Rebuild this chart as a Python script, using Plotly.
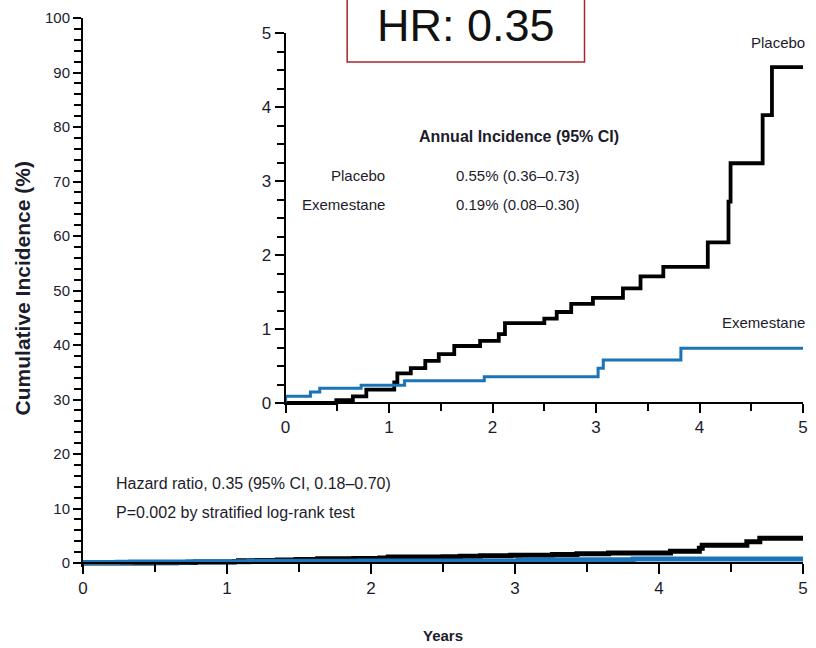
import plotly.graph_objects as go

# ---------------- data ----------------
placebo_t = [0, 0.49, 0.65, 0.78, 1.05, 1.08, 1.21, 1.35, 1.48, 1.63, 1.88, 2.06, 2.12,
             2.50, 2.62, 2.76, 2.97, 3.26, 3.43, 3.65, 4.08, 4.28, 4.30, 4.61, 4.70, 5.0]
placebo_y = [0, 0.04, 0.09, 0.18, 0.28, 0.40, 0.47, 0.57, 0.66, 0.77, 0.84, 0.93, 1.08,
             1.14, 1.23, 1.34, 1.42, 1.55, 1.71, 1.84, 2.17, 2.72, 3.24, 3.89, 4.54, 4.54]
exem_t = [0, 0, 0.24, 0.33, 0.73, 1.15, 1.92, 3.02, 3.07, 3.82, 5.0]
exem_y = [0, 0.09, 0.15, 0.20, 0.24, 0.30, 0.355, 0.47, 0.58, 0.74, 0.74]

year_ticks = [0, 1, 2, 3, 4, 5]
main_y_ticks = [0, 10, 20, 30, 40, 50, 60, 70, 80, 90, 100]
inset_y_ticks = [0, 1, 2, 3, 4, 5]

# ---------------- layout helpers ----------------
W, H = 816, 648
ML, MR, MT, MB = 83, 8, 18, 81
PW, PH = W - ML - MR, H - MT - MB


def px(x):
    return (x - ML) / PW


def py(y):
    return (H - MB - y) / PH


FONT = "Liberation Sans, Arial, sans-serif"
TXT = "#1c1c2c"
BLUE = "#1b74b9"

fig = go.Figure()

# main panel
fig.add_trace(go.Scatter(x=placebo_t, y=placebo_y, mode="lines", name="Placebo",
                         line=dict(color="black", width=5, shape="hv"), xaxis="x", yaxis="y"))
fig.add_trace(go.Scatter(x=exem_t, y=exem_y, mode="lines", name="Exemestane",
                         line=dict(color=BLUE, width=5, shape="hv"), xaxis="x", yaxis="y"))
# inset panel
fig.add_trace(go.Scatter(x=placebo_t, y=placebo_y, mode="lines", name="Placebo",
                         line=dict(color="black", width=3.8, shape="hv"), xaxis="x2", yaxis="y2"))
fig.add_trace(go.Scatter(x=exem_t, y=exem_y, mode="lines", name="Exemestane",
                         line=dict(color=BLUE, width=3, shape="hv"), xaxis="x2", yaxis="y2"))

axis_common = dict(showline=True, linecolor="black", linewidth=2, ticks="outside",
                   tickcolor="black", tickwidth=1.5, showgrid=False, zeroline=False)

main_px_per_unit = (563 - 18) / 100.0
inset_px_per_unit = (403 - 33) / 5.0

fig.update_layout(
    width=W, height=H,
    margin=dict(l=ML, r=MR, t=MT, b=MB),
    paper_bgcolor="white", plot_bgcolor="rgba(0,0,0,0)",
    showlegend=False,
    xaxis=dict(domain=[0, 1], range=[0, 5], anchor="free", position=py(563),
               tickvals=year_ticks, ticklen=10,
               minor=dict(ticks="outside", dtick=0.5, tick0=0, ticklen=8,
                          tickcolor="black", tickwidth=1.5),
               tickfont=dict(family=FONT, size=17, color=TXT), **axis_common),
    yaxis=dict(domain=[0, 1], range=[-(567 - 563) / main_px_per_unit, 100], anchor="x",
               tickvals=main_y_ticks, ticklen=8,
               minor=dict(ticks="outside", dtick=2, tick0=0, ticklen=7,
                          tickcolor="black", tickwidth=1.5),
               tickfont=dict(family=FONT, size=15, color=TXT), **axis_common),
    xaxis2=dict(domain=[px(287), 1], range=[0, 5], anchor="free", position=py(403),
                tickvals=year_ticks, ticklen=9,
                minor=dict(ticks="outside", dtick=0.5, tick0=0, ticklen=7,
                           tickcolor="black", tickwidth=1.5),
                tickfont=dict(family=FONT, size=17, color=TXT), **axis_common),
    yaxis2=dict(domain=[py(405), py(33)], range=[-2 / inset_px_per_unit, 5], anchor="x2",
                tickvals=inset_y_ticks, ticklen=9,
                minor=dict(ticks="outside", dtick=0.25, tick0=0, ticklen=7,
                           tickcolor="black", tickwidth=1.5),
                tickfont=dict(family=FONT, size=17, color=TXT), **axis_common),
)

fig.add_shape(type="rect", xref="paper", yref="paper",
              x0=px(349), x1=px(588), y0=py(62), y1=py(-4),
              line=dict(color="#a8262a", width=1.5), fillcolor="white", layer="above")


def note(text, x, y, size, xanchor="center", bold=False, angle=0, family=FONT, color=TXT,
         pad=1):
    if bold:
        text = "<b>" + text + "</b>"
    fig.add_annotation(text=text, x=px(x), y=py(y), xref="paper", yref="paper",
                       xanchor=xanchor, yanchor="middle", showarrow=False, textangle=angle,
                       borderpad=pad, font=dict(family=family, size=size, color=color))


note("HR: 0.35", 469, 26, 45, color="#111111", pad=0)
note("Annual Incidence (95% CI)", 522, 136, 16, bold=True)
note("Placebo", 389, 175, 15, xanchor="right")
note("Exemestane", 389, 204, 15, xanchor="right")
note("0.55% (0.36\u20130.73)", 457, 175, 15, xanchor="left")
note("0.19% (0.08\u20130.30)", 457, 204, 15, xanchor="left")
note("Placebo", 812, 42, 15, xanchor="right")
note("Exemestane", 812, 322, 15, xanchor="right")
note("Hazard ratio, 0.35 (95% CI, 0.18\u20130.70)", 114, 483, 16, xanchor="left")
note("P=0.002 by stratified log-rank test", 114, 512, 16, xanchor="left")
note("Years", 445, 635, 15, bold=True)
note("Cumulative Incidence (%)", 22, 288, 21, bold=True, angle=-90)

fig.write_html("out.html")
